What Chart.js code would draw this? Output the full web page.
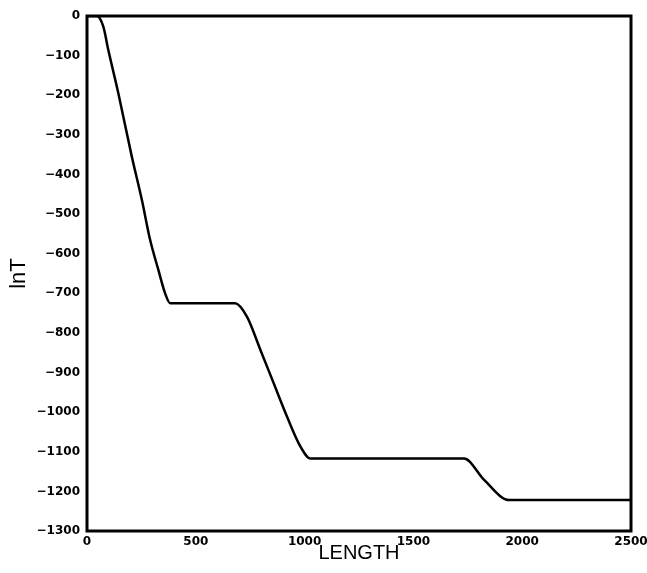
<!DOCTYPE html>
<html lang="en">
<head>
    <meta charset="UTF-8">
    <title>lnT vs LENGTH</title>
    <script src="https://cdn.jsdelivr.net/npm/chart.js"></script>
    <style>
        html, body {
            margin: 0;
            padding: 0;
            background: #ffffff;
        }
        .chart-container {
            width: 647px;
            height: 573px;
        }
    </style>
</head>
<body>
    <div class="chart-container">
        <canvas id="lnTChart"></canvas>
    </div>

    <script>
        // lnT along the length: two steep drops, a smaller third one, flat in between
        const lengths = [0, 45, 75, 98, 144, 206, 252, 290, 328, 359, 382, 681, 735, 797, 858, 919, 981, 1027, 1733, 1825, 1940, 2500];
        const lnT = [0, 0, -27, -86, -195, -355, -464, -565, -641, -700, -725, -725, -759, -843, -927, -1011, -1087, -1117, -1117, -1171, -1222, -1222];

        const xTicks = [0, 500, 1000, 1500, 2000, 2500];
        const yMin = -1300;
        const yMax = 0;

        const points = lengths.map((x, i) => ({ x: x, y: lnT[i] }));

        // Heavy black frame around the plot area
        const framePlugin = {
            id: 'frame',
            afterDraw(chart) {
                const { ctx, chartArea } = chart;
                ctx.save();
                ctx.strokeStyle = '#000';
                ctx.lineWidth = 3;
                ctx.strokeRect(chartArea.left, chartArea.top,
                    chartArea.right - chartArea.left, chartArea.bottom - chartArea.top);
                ctx.restore();
            }
        };

        const tickFont = { family: 'DejaVu Sans', size: 12, weight: 'bold' };
        const minus = v => String(v).replace('-', '\u2212');

        new Chart(document.getElementById('lnTChart'), {
            type: 'line',
            data: {
                datasets: [{
                    data: points,
                    borderColor: '#000',
                    borderWidth: 2.5,
                    pointRadius: 0,
                    cubicInterpolationMode: 'monotone',
                    fill: false
                }]
            },
            options: {
                responsive: true,
                maintainAspectRatio: false,
                animation: false,
                layout: { padding: { top: 16, right: 16, left: 0, bottom: 0 } },
                plugins: {
                    legend: { display: false },
                    tooltip: { enabled: false }
                },
                scales: {
                    x: {
                        type: 'linear',
                        min: 0,
                        max: 2500,
                        afterBuildTicks: scale => {
                            scale.ticks = xTicks.map(v => ({ value: v }));
                        },
                        afterFit: scale => {
                            scale.height = 42;
                            // let the end labels hang past the frame instead of shrinking it
                            scale.paddingLeft = 0;
                            scale.paddingRight = 0;
                        },
                        grid: { display: false, drawTicks: false },
                        border: { display: false },
                        ticks: {
                            color: '#000',
                            font: tickFont,
                            padding: 4,
                            maxRotation: 0,
                            callback: v => minus(v)
                        },
                        title: {
                            display: true,
                            text: 'LENGTH',
                            color: '#000',
                            font: { family: 'Liberation Sans', size: 20 },
                            padding: { top: 0, bottom: 8 }
                        }
                    },
                    y: {
                        min: yMin,
                        max: yMax,
                        afterFit: scale => {
                            scale.width = 87;
                            scale.paddingTop = 0;
                            scale.paddingBottom = 0;
                        },
                        grid: { display: false, drawTicks: false },
                        border: { display: false },
                        ticks: {
                            stepSize: 100,
                            color: '#000',
                            font: tickFont,
                            padding: 7,
                            callback: v => minus(v)
                        },
                        title: {
                            display: true,
                            text: 'lnT',
                            color: '#000',
                            font: { family: 'Liberation Sans', size: 22 },
                            padding: { top: 6, bottom: 0 }
                        }
                    }
                }
            },
            plugins: [framePlugin]
        });
    </script>
</body>
</html>
